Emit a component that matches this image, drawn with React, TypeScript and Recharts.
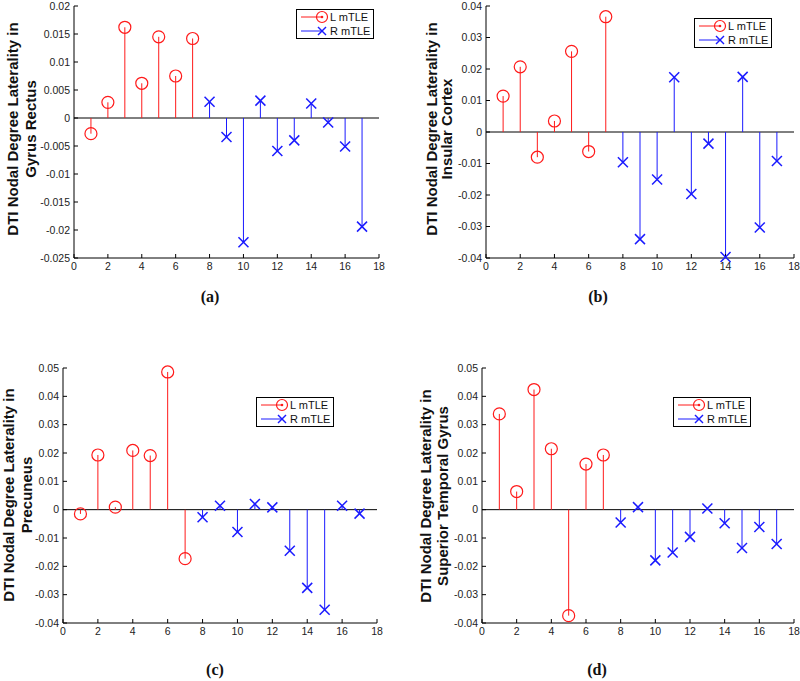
import React from 'react'
import { ScatterChart, Scatter, XAxis, YAxis, ReferenceLine, Legend } from 'recharts'

// stem positions: L mTLE subjects 1-7, R mTLE subjects 8-17
const leftIndex = [1, 2, 3, 4, 5, 6, 7]
const rightIndex = [8, 9, 10, 11, 12, 13, 14, 15, 16, 17]
const xTicks = [0, 2, 4, 6, 8, 10, 12, 14, 16, 18]

const seriesNames = ['L mTLE', 'R mTLE']

// (a) Gyrus Rectus
const gyrusRectusL = [-0.0028, 0.0028, 0.0162, 0.0062, 0.0145, 0.0075, 0.0142]
const gyrusRectusR = [0.0029, -0.0034, -0.0222, 0.0031, -0.0059, -0.004, 0.0026, -0.0008, -0.0051, -0.0194]
const ticksA = [-0.025, -0.02, -0.015, -0.01, -0.005, 0, 0.005, 0.01, 0.015, 0.02]

// (b) Insular Cortex
const insularL = [0.0114, 0.0207, -0.008, 0.0035, 0.0256, -0.0062, 0.0366]
const insularR = [-0.0096, -0.034, -0.0151, 0.0174, -0.0197, -0.0037, -0.0397, 0.0175, -0.0303, -0.0092]
const ticksB = [-0.04, -0.03, -0.02, -0.01, 0, 0.01, 0.02, 0.03, 0.04]

// (c) Precuneus
const precuneusL = [-0.0015, 0.0193, 0.0009, 0.0209, 0.0191, 0.0486, -0.0173]
const precuneusR = [-0.0027, 0.0014, -0.0079, 0.002, 0.0008, -0.0145, -0.0276, -0.0353, 0.0014, -0.0014]

// (d) Superior Temporal Gyrus
const temporalL = [0.0338, 0.0064, 0.0424, 0.0215, -0.0374, 0.0161, 0.0193]
const temporalR = [-0.0045, 0.0009, -0.0179, -0.0151, -0.0096, 0.0004, -0.0048, -0.0135, -0.0061, -0.0121]
const ticksCD = [-0.04, -0.03, -0.02, -0.01, 0, 0.01, 0.02, 0.03, 0.04, 0.05]

const RED = '#ff1a1a'
const BLUE = '#1a1aff'
const SANS = '"Liberation Sans", Arial, sans-serif'

const fmt = (v: number) => String(Number(v.toFixed(4)))

const tickStyle = { fontSize: 10.5, fill: '#222', fontFamily: SANS }

const CircleMarker = (props: any) => (
  <circle cx={props.cx} cy={props.cy} r={6} fill="none" stroke={RED} strokeWidth={1.2} />
)

const CrossMarker = (props: any) => {
  const { cx, cy } = props
  const s = 5
  return (
    <g stroke={BLUE} strokeWidth={1.5}>
      <line x1={cx - s} y1={cy - s} x2={cx + s} y2={cy + s} />
      <line x1={cx - s} y1={cy + s} x2={cx + s} y2={cy - s} />
    </g>
  )
}

const renderLegend = (props: any) => {
  const items = props.payload || []
  return (
    <div style={{ width: 78, height: 30, border: '1px solid #000', background: '#fff', boxSizing: 'border-box' }}>
      <svg width={76} height={28} style={{ display: 'block' }}>
        {items.map((entry: any, i: number) => {
          const y = 7 + i * 14
          const color = i === 0 ? RED : BLUE
          return (
            <g key={entry.value}>
              <line x1={4} y1={y} x2={25} y2={y} stroke={color} strokeWidth={1} />
              {i === 0 ? (
                <g>
                  <circle cx={25} cy={y} r={5.5} fill="none" stroke={color} strokeWidth={1.2} />
                  <circle cx={25} cy={y} r={1.3} fill={color} />
                </g>
              ) : (
                <g stroke={color} strokeWidth={1.5}>
                  <line x1={21} y1={y - 4} x2={29} y2={y + 4} />
                  <line x1={21} y1={y + 4} x2={29} y2={y - 4} />
                </g>
              )}
              <text x={33} y={y} dominantBaseline="central" fontSize={11} fontFamily={SANS} fill="#111">
                {entry.value}
              </text>
            </g>
          )
        })}
      </svg>
    </div>
  )
}

interface PanelProps {
  left: number
  top: number
  width: number
  height: number
  plotTop: number
  plotRight: number
  yAxisWidth: number
  yTicks: number[]
  lValues: number[]
  rValues: number[]
  title: string[]
  titleX: number[]
  titleY: number
  legendAt: { left: number; top: number }
}

function StemPanel(p: PanelProps) {
  const lData = leftIndex.map((x, i) => ({ x, y: p.lValues[i] }))
  const rData = rightIndex.map((x, i) => ({ x, y: p.rValues[i] }))
  const yDomain = [p.yTicks[0], p.yTicks[p.yTicks.length - 1]]

  const axisTitle = () => (
    <g>
      {p.title.map((line, i) => (
        <text
          key={line}
          x={p.titleX[i]}
          y={p.titleY}
          transform={`rotate(-90 ${p.titleX[i]} ${p.titleY})`}
          textAnchor="middle"
          dominantBaseline="central"
          fontSize={15}
          fontWeight="bold"
          fontFamily={SANS}
          fill="#111"
        >
          {line}
        </text>
      ))}
    </g>
  )

  return (
    <div style={{ position: 'absolute', left: p.left, top: p.top }}>
      <ScatterChart
        width={p.width}
        height={p.height}
        margin={{ top: p.plotTop, right: p.plotRight, left: 0, bottom: 0 }}
      >
        <XAxis
          type="number"
          dataKey="x"
          domain={[0, 18]}
          ticks={xTicks}
          interval={0}
          height={22}
          tickSize={-4}
          tickMargin={9}
          stroke="#000"
          tick={tickStyle}
        />
        <XAxis
          xAxisId="top"
          orientation="top"
          type="number"
          domain={[0, 18]}
          allowDataOverflow
          ticks={xTicks}
          interval={0}
          height={0}
          tickSize={-4}
          tick={false}
          stroke="#000"
        />
        <YAxis
          type="number"
          dataKey="y"
          domain={yDomain}
          ticks={p.yTicks}
          interval={0}
          width={p.yAxisWidth}
          tickSize={-4}
          tickMargin={8}
          tickFormatter={fmt}
          stroke="#000"
          tick={tickStyle}
          label={axisTitle}
        />
        <YAxis
          yAxisId="right"
          orientation="right"
          type="number"
          domain={yDomain}
          allowDataOverflow
          ticks={p.yTicks}
          interval={0}
          width={0}
          tickSize={-4}
          tick={false}
          stroke="#000"
        />
        <ReferenceLine y={0} stroke="#000" strokeWidth={1} />
        {lData.map((d) => (
          <ReferenceLine key={`l${d.x}`} segment={[{ x: d.x, y: 0 }, { x: d.x, y: d.y }]} stroke={RED} strokeWidth={1} />
        ))}
        {rData.map((d) => (
          <ReferenceLine key={`r${d.x}`} segment={[{ x: d.x, y: 0 }, { x: d.x, y: d.y }]} stroke={BLUE} strokeWidth={1} />
        ))}
        <Scatter name={seriesNames[0]} data={lData} fill={RED} shape={CircleMarker} isAnimationActive={false} />
        <Scatter name={seriesNames[1]} data={rData} fill={BLUE} shape={CrossMarker} isAnimationActive={false} />
        <Legend
          layout="vertical"
          align="center"
          verticalAlign="middle"
          content={renderLegend}
          wrapperStyle={{ left: p.legendAt.left, top: p.legendAt.top, width: 78, height: 30 }}
        />
      </ScatterChart>
    </div>
  )
}

const Caption = ({ x, y, text }: { x: number; y: number; text: string }) => (
  <div
    style={{
      position: 'absolute',
      left: x,
      top: y,
      transform: 'translate(-50%, -50%)',
      fontFamily: '"Liberation Serif", "Times New Roman", serif',
      fontWeight: 'bold',
      fontSize: 16,
      color: '#111',
    }}
  >
    {text}
  </div>
)

export default function App() {
  return (
    <div style={{ position: 'absolute', left: 0, top: 0, width: 800, height: 681, background: '#fff', overflow: 'hidden' }}>
      <StemPanel
        left={0} top={0} width={390} height={280}
        plotTop={6} plotRight={11} yAxisWidth={74}
        yTicks={ticksA} lValues={gyrusRectusL} rValues={gyrusRectusR}
        title={['DTI Nodal Degree Laterality in', 'Gyrus Rectus']}
        titleX={[12.5, 30.5]} titleY={129}
        legendAt={{ left: 296, top: 9 }}
      />
      <StemPanel
        left={400} top={0} width={400} height={280}
        plotTop={6} plotRight={6} yAxisWidth={86}
        yTicks={ticksB} lValues={insularL} rValues={insularR}
        title={['DTI Nodal Degree Laterality in', 'Insular Cortex']}
        titleX={[31, 46.5]} titleY={129}
        legendAt={{ left: 294, top: 18 }}
      />
      <StemPanel
        left={0} top={360} width={390} height={285}
        plotTop={8} plotRight={13} yAxisWidth={63}
        yTicks={ticksCD} lValues={precuneusL} rValues={precuneusR}
        title={['DTI Nodal Degree Laterality in', 'Precuneus']}
        titleX={[8, 26]} titleY={135}
        legendAt={{ left: 256, top: 37 }}
      />
      <StemPanel
        left={400} top={360} width={400} height={285}
        plotTop={8} plotRight={6} yAxisWidth={82}
        yTicks={ticksCD} lValues={temporalL} rValues={temporalR}
        title={['DTI Nodal Degree Laterality in', 'Superior Temporal Gyrus']}
        titleX={[25, 42.5]} titleY={136}
        legendAt={{ left: 273, top: 37 }}
      />
      <Caption x={210} y={297} text="(a)" />
      <Caption x={598} y={297} text="(b)" />
      <Caption x={215} y={670} text="(c)" />
      <Caption x={597} y={670} text="(d)" />
    </div>
  )
}
